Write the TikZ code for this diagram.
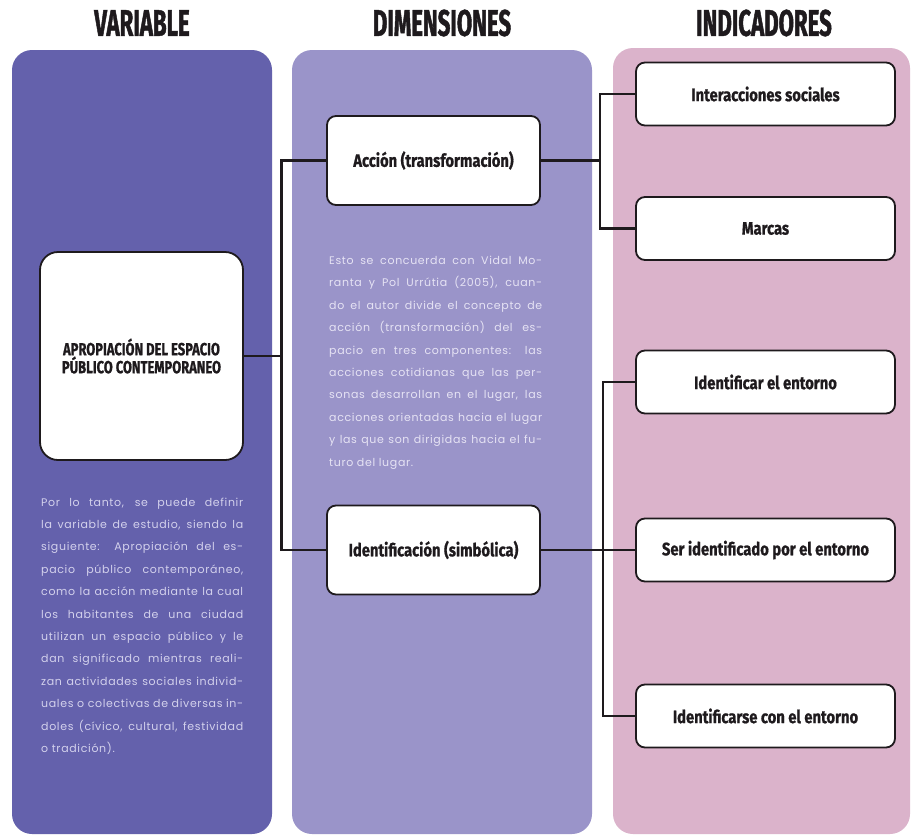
\documentclass[tikz,border=0pt]{standalone}
\usepackage{fontspec}
\setmainfont{Fira Sans}
\newfontfamily\titlefont{Fira Sans}[FakeStretch=0.6, BoldFeatures={FakeBold=1.2}]
\newfontfamily\boxfont{Fira Sans}[FakeStretch=0.82, BoldFeatures={FakeBold=0.9}]
\newfontfamily\varfont{Fira Sans}[FakeStretch=0.74, BoldFeatures={FakeBold=0.9}]
\newfontfamily\bodyfont{Poppins}[LetterSpace=6]
\definecolor{panelA}{HTML}{6461AC}
\definecolor{panelB}{HTML}{9A94C9}
\definecolor{panelC}{HTML}{DBB3CB}
\definecolor{txtA}{HTML}{D3D1EC}
\definecolor{txtB}{HTML}{E6E3F4}
\definecolor{ink}{HTML}{1E1A1D}
\tikzset{
  panel/.style={rounded corners=20pt, draw=none},
  titletext/.style={font=\titlefont\bfseries\fontsize{37}{40}\selectfont, text=ink, inner sep=0pt},
  whitebox/.style={draw=ink, line width=1.8pt, fill=white, rounded corners=9pt, inner sep=0pt,
     font=\boxfont\bfseries\fontsize{18}{18}\selectfont, text=ink, align=center},
  link/.style={draw=ink, line width=2.2pt},
  bodytext/.style={inner sep=0pt, anchor=north west, align=left, font=\bodyfont\fontsize{11}{22.4}\selectfont}
}
\newcommand{\jl}[2]{\makebox[#1][s]{#2}}
\begin{document}
\begin{tikzpicture}[x=1pt,y=-1pt]
\useasboundingbox (0,0) rectangle (916,836);
\fill[white] (0,0) rectangle (916,836);
% panels
\fill[panelA, panel] (12,50) rectangle (272,834);
\fill[panelB, panel] (292,50) rectangle (592,834);
\fill[panelC, panel] (613,48) rectangle (910,834);
% titles
\node[titletext] (tv) at (142,23) {VARIABLE};
\node[titletext] (td) at (442,23) {DIMENSIONES};
\node[titletext] (ti) at (764,23) {INDICADORES};
% variable box
\node[whitebox, rounded corners=18pt, minimum width=203pt, minimum height=208pt,
      font=\varfont\bfseries\fontsize{17.5}{18}\selectfont] (var) at (141.5,356)
      {APROPIACIÓN DEL ESPACIO\\PÚBLICO CONTEMPORANEO};
% dimension boxes
\node[whitebox, minimum width=213pt, minimum height=89pt] (acc) at (433.5,160.5) {Acción (transformación)};
\node[whitebox, minimum width=213pt, minimum height=89pt] (ide) at (433.5,550) {Identificación (simbólica)};
% indicator boxes
\node[whitebox, minimum width=259pt, minimum height=63pt] (int) at (765.5,94) {Interacciones sociales};
\node[whitebox, minimum width=259pt, minimum height=63pt] (mar) at (765.5,228.5) {Marcas};
\node[whitebox, minimum width=259pt, minimum height=63pt] (ient) at (765.5,382) {Identificar el entorno};
\node[whitebox, minimum width=259pt, minimum height=63pt] (ser) at (765.5,550) {Ser identificado por el entorno};
\node[whitebox, minimum width=259pt, minimum height=63pt] (icon) at (765.5,716) {Identificarse con el entorno};
% connectors
\coordinate (j1) at (281.5,356);
\coordinate (j2) at (600,160.5);
\coordinate (j3) at (603,550);
\draw[link] (var.east) -- (j1);
\draw[link] (acc.west) -- (acc.west -| j1) -- (ide.west -| j1) -- (ide.west);
\draw[link] (acc.east) -- (j2);
\draw[link] (int.west) -- (int.west -| j2) -- (mar.west -| j2) -- (mar.west);
\draw[link] (ide.east) -- (ser.west);
\draw[link] (ient.west) -- (ient.west -| j3) -- (icon.west -| j3) -- (icon.west);
% body texts
\node[bodytext, text=txtA] (vtext) at (41,497.5) {%
\jl{202pt}{Por lo tanto, se puede definir}\\
\jl{202pt}{la variable de estudio, siendo la}\\
\jl{202pt}{siguiente: Apropiación del es-}\\
\jl{202pt}{pacio público contemporáneo,}\\
\jl{202pt}{como la acción mediante la cual}\\
\jl{202pt}{los habitantes de una ciudad}\\
\jl{202pt}{utilizan un espacio público y le}\\
\jl{202pt}{dan significado mientras reali-}\\
\jl{202pt}{zan actividades sociales individ-}\\
\jl{202pt}{uales o colectivas de diversas in-}\\
\jl{202pt}{doles (cívico, cultural, festividad}\\
o tradición).};
\node[bodytext, text=txtB] (dtext) at (329,256) {%
\jl{213pt}{Esto se concuerda con Vidal Mo-}\\
\jl{213pt}{ranta y Pol Urrútia (2005), cuan-}\\
\jl{213pt}{do el autor divide el concepto de}\\
\jl{213pt}{acción (transformación) del es-}\\
\jl{213pt}{pacio en tres componentes: las}\\
\jl{213pt}{acciones cotidianas que las per-}\\
\jl{213pt}{sonas desarrollan en el lugar, las}\\
\jl{213pt}{acciones orientadas hacia el lugar}\\
\jl{213pt}{y las que son dirigidas hacia el fu-}\\
turo del lugar.};
\end{tikzpicture}
\end{document}
